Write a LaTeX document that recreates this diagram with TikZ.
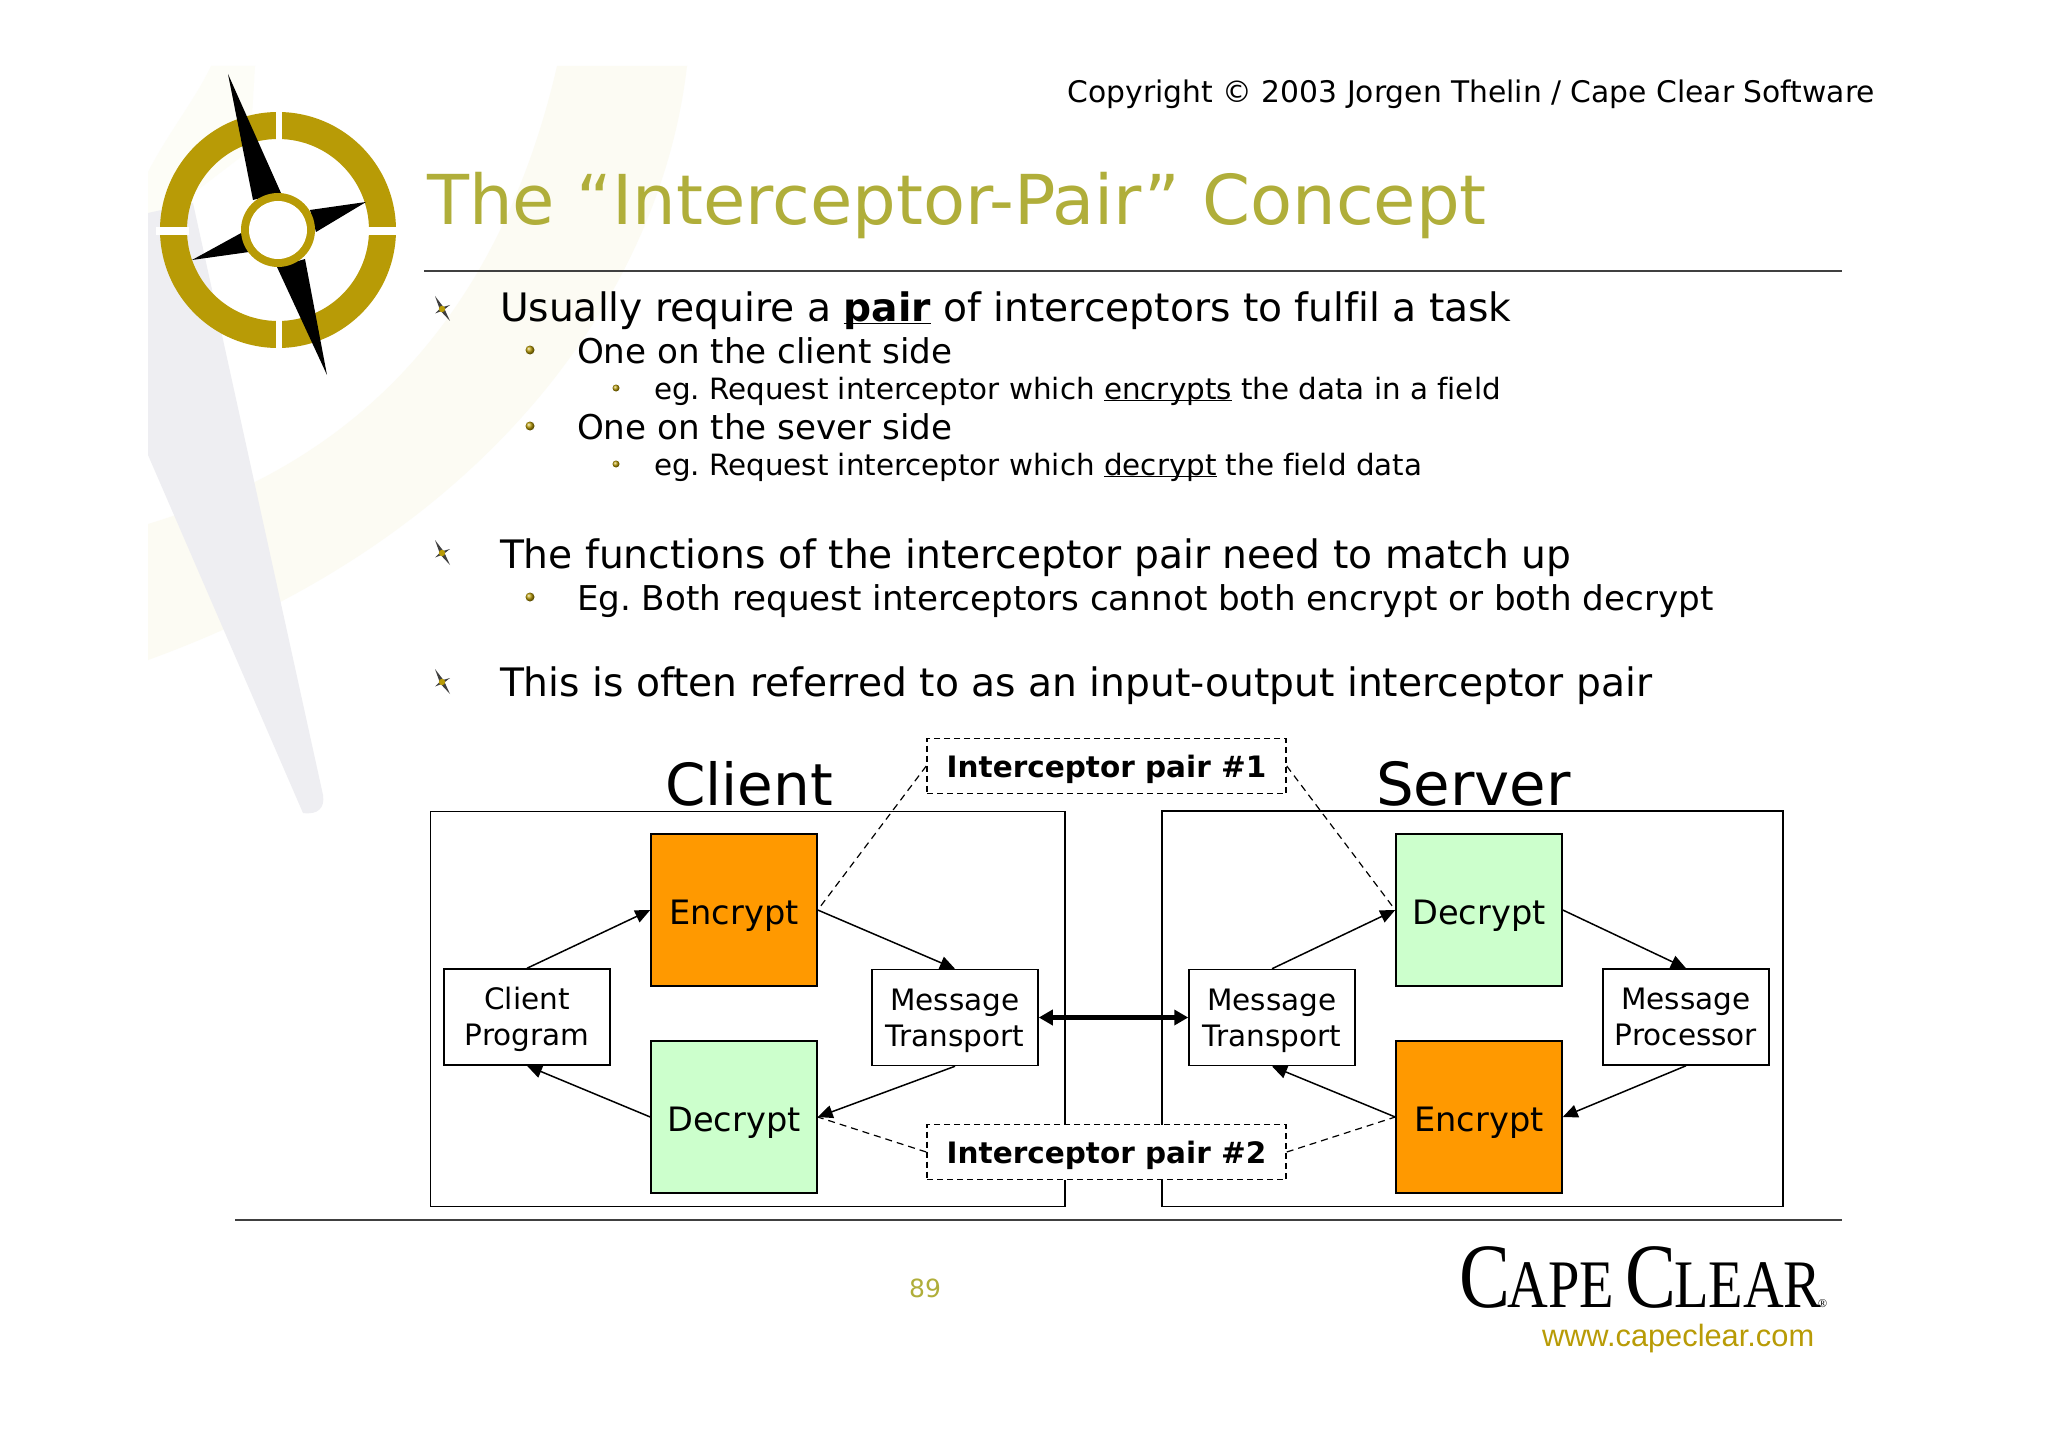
\documentclass[tikz,border=0pt]{standalone}
\usepackage{fontspec}
\usetikzlibrary{arrows.meta}
\setmainfont[Ligatures=NoCommon]{DejaVu Sans}
\newfontfamily\logoserif{Liberation Serif}
\newfontfamily\logosans{Liberation Sans}
\frenchspacing
\definecolor{olivetitle}{HTML}{B0AE3A}
\definecolor{ringgold}{HTML}{B89B06}
\definecolor{pale}{HTML}{FCFBF3}
\definecolor{palest}{HTML}{FDFDF7}
\definecolor{beam}{HTML}{EEEEF2}
\definecolor{orangebox}{HTML}{FF9900}
\definecolor{greenbox}{HTML}{CCFFCC}
\newcommand{\fs}[1]{\fontsize{#1}{#1}\selectfont}
\newcommand{\ul}[1]{\underline{\smash{#1}}}
\newcommand{\twol}[2]{\rule{0pt}{29pt}#1\\#2\rule[-8pt]{0pt}{9pt}}
\tikzset{
  txt/.style={anchor=base west,inner sep=0pt,outer sep=0pt,text=black},
  lvla/.style={txt,font=\fs{39.2}},
  lvlb/.style={txt,font=\fs{34.15}},
  lvlc/.style={txt,font=\fs{29.35}},
  big/.style={draw=black,line width=1.6pt,fill=white},
  procbox/.style={draw=black,line width=1.5pt,fill=white,minimum width=166pt,minimum height=96pt,inner sep=0pt,align=center,font=\fontsize{29.5}{36}\selectfont},
  colbox/.style={draw=black,line width=1.5pt,minimum width=166pt,minimum height=152pt,inner sep=0pt,font=\fs{33.6},text height=28pt,text depth=0pt},
  pairbox/.style={draw=black,dash pattern=on 6pt off 4pt,line width=1.5pt,fill=white,minimum width=359pt,minimum height=55pt,inner sep=0pt,font=\bfseries\fs{29.5},text height=22pt,text depth=0pt},
  flow/.style={draw=black,line width=1.5pt,-{Triangle[length=15pt,width=13pt]}},
  dashline/.style={draw=black,line width=1.2pt,dash pattern=on 7pt off 5pt},
  rulel/.style={draw=black!75,line width=1.4pt},
  starb/.pic={
    \fill[black!75] (-7,-13)--(1.8,-1.5)--(8,12)--(-1.8,1.5)--cycle;
    \fill[black!75] (-7,4.5)--(-1,-1.5)--(8,-4)--(1,1.5)--cycle;
    \fill[ringgold] (0,0) circle (3.2pt);
  },
  dotb/.style={shade,ball color=ringgold,draw=none,circle,inner sep=0pt,minimum size=#1}
}
\begin{document}
\begin{tikzpicture}[x=1pt,y=-1pt]
\useasboundingbox (0,0) rectangle (2048,1447);
\fill[white] (0,0) rectangle (2048,1447);
% background art
\fill[pale] (148,524) .. controls (263,489) and (480,400) .. (557,66) -- (687,66) .. controls (660,300) and (480,540) .. (148,660) -- cycle;
\fill[palest] (211,66) -- (255,66) -- (250,150) -- (165,215) -- (148,213) -- (148,172) .. controls (170,130) and (195,100) .. cycle;
\fill[beam] (148,213) -- (193,203) -- (323,795) .. controls (325,808) and (318,815) .. (303,813) -- (148,455) -- cycle;
% compass
\fill[ringgold,even odd rule] (278,230) circle (118pt) (278,230) circle (91pt);
\fill[white] (275.5,108) rectangle (282,142);
\fill[white] (275.5,318) rectangle (282,352);
\fill[white] (156,227.5) rectangle (189,235);
\fill[white] (367,227.5) rectangle (400,235);
\fill[black] (228,74) -- (281,193) -- (253,200) -- cycle;
\fill[black] (327,375) -- (277,267) -- (305,259) -- cycle;
\fill[black] (366,202) -- (310,210) -- (316,232) -- cycle;
\fill[black] (192,260) -- (243,232) -- (249,252) -- cycle;
\fill[ringgold] (278,230) circle (37pt);
\fill[white] (278,230) circle (29pt);
% header
\node[txt,anchor=base east,font=\fs{29.75}] (copy) at (1875,103) {Copyright © 2003 Jorgen Thelin / Cape Clear Software};
\node[txt,text=olivetitle,font=\fs{68.8}] (title) at (427,225) {The “Interceptor-Pair” Concept};
\coordinate (r1a) at (424,271); \coordinate (r1b) at (1842,271);
\draw[rulel] (r1a) -- (r1b);
% bullets
\pic at (442,309) {starb};
\pic at (442,553) {starb};
\pic at (442,682) {starb};
\node[dotb=9pt] (d1) at (530,350) {};
\node[dotb=7pt] (d2) at (616,388) {};
\node[dotb=9pt] (d3) at (530,426) {};
\node[dotb=7pt] (d4) at (616,464) {};
\node[dotb=9pt] (d5) at (530,597) {};
\node[lvla] (t1) at (500,322) {Usually require a \ul{\textbf{pair}} of interceptors to fulfil a task};
\node[lvlb] (t2) at (577,363) {One on the client side};
\node[lvlc] (t3) at (654,399) {eg. Request interceptor which \ul{encrypts} the data in a field};
\node[lvlb] (t4) at (577,439) {One on the sever side};
\node[lvlc] (t5) at (654,475) {eg. Request interceptor which \ul{decrypt} the field data};
\node[lvla] (t6) at (500,568) {The functions of the interceptor pair need to match up};
\node[lvlb] (t7) at (577,610) {Eg. Both request interceptors cannot both encrypt or both decrypt};
\node[lvla] (t8) at (500,696) {This is often referred to as an input-output interceptor pair};
% containers
\draw[big] (430.5,811.5) rectangle (1065,1206.5);
\draw[big] (1162,811) rectangle (1783,1206.5);
\node[txt,font=\fs{58}] (clabel) at (665,805) {Client};
\node[txt,font=\fs{59.4}] (slabel) at (1376,805) {Server};
% client
\node[colbox,fill=orangebox] (enc1) at (734,910) {Encrypt};
\node[colbox,fill=greenbox] (dec1) at (734,1117) {Decrypt};
\node[procbox] (cp) at (527,1017) {\twol{Client}{Program}};
\node[procbox] (mt1) at (955,1017.5) {\twol{Message}{Transport}};
% server
\node[colbox,fill=greenbox] (dec2) at (1479,910) {Decrypt};
\node[colbox,fill=orangebox] (enc2) at (1479,1117) {Encrypt};
\node[procbox] (mt2) at (1272,1017.5) {\twol{Message}{Transport}};
\node[procbox] (mp) at (1686,1017) {\twol{Message}{Processor}};
% flows
\draw[flow] (cp.north) -- (enc1.west);
\draw[flow] (enc1.east) -- (mt1.north);
\draw[flow] (mt1.south) -- (dec1.east);
\draw[flow] (dec1.west) -- (cp.south);
\draw[flow] (mt2.north) -- (dec2.west);
\draw[flow] (dec2.east) -- (mp.north);
\draw[flow] (mp.south) -- (enc2.east);
\draw[flow] (enc2.west) -- (mt2.south);
\draw[draw=black,line width=4.5pt,{Triangle[length=14pt,width=15pt]}-{Triangle[length=14pt,width=15pt]}] (mt1.east) -- (mt2.west);
% pairs
\node[pairbox] (p1) at (1106.5,766) {Interceptor pair \#1};
\node[pairbox] (p2) at (1106.5,1152) {Interceptor pair \#2};
\draw[dashline] (p1.west) -- (enc1.east);
\draw[dashline] (p1.east) -- (dec2.west);
\draw[dashline] (p2.west) -- (dec1.east);
\draw[dashline] (p2.east) -- (enc2.west);
% footer
\coordinate (r2a) at (235,1220); \coordinate (r2b) at (1842,1220);
\draw[rulel] (r2a) -- (r2b);
\node[text=olivetitle,font=\fs{25},inner sep=0pt] (page) at (925,1288) {89};
\node[txt,font=\logoserif] (logo) at (1459,1307) {\scalebox{0.83}[1]{\fs{92}C\kern-3pt\fs{68}APE\kern14pt\fs{92}C\kern-3pt\fs{68}LEAR}};
\node[txt,font=\logoserif\fs{12}] (reg) at (1818,1307) {®};
\node[txt,text=ringgold,font=\logosans\fs{30.8}] (url) at (1542,1346) {www.capeclear.com};
\end{tikzpicture}
\end{document}
